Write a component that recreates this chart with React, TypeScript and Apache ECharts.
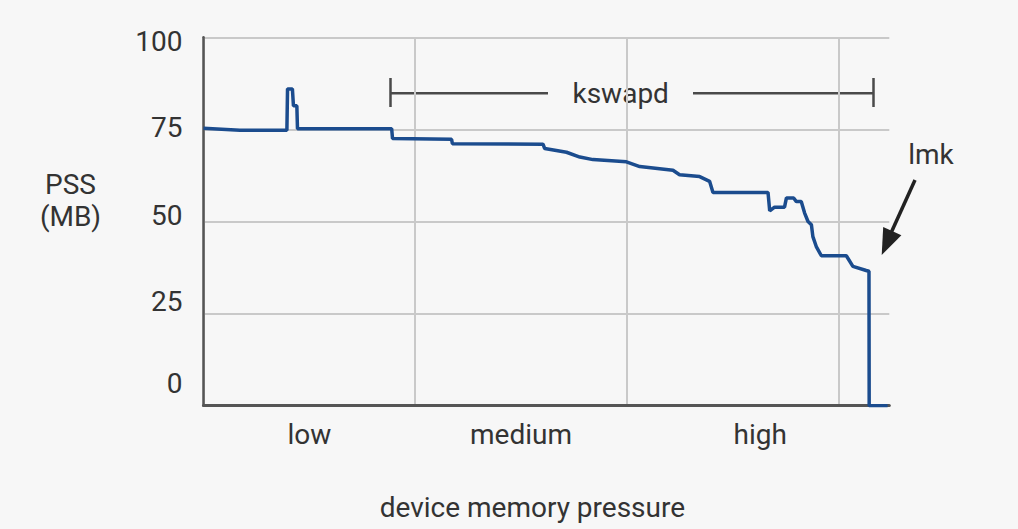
import React, { useEffect, useRef } from "react";
import * as echarts from "echarts";

// ---- data ----
const categories = ["low", "medium", "high"];
const categoryLabelAt = [0.5, 1.5, 2.63];
const yTicks = [0, 25, 50, 75, 100];

const pressure = [
  0.0, 0.172, 0.394, 0.397, 0.42, 0.425, 0.441, 0.444, 0.889, 0.893, 1.172, 1.176,
  1.604, 1.612, 1.715, 1.778, 1.84, 1.998, 2.061, 2.218, 2.249, 2.344, 2.391, 2.407,
  2.667, 2.675, 2.698, 2.745, 2.754, 2.788, 2.801, 2.824, 2.84, 2.856, 2.872, 2.879,
  2.895, 2.919, 3.037, 3.068, 3.131, 3.144, 3.145, 3.232,
];
const pssMB = [
  75.3, 74.8, 74.8, 86.0, 86.0, 81.4, 81.4, 75.2, 75.2, 72.5, 72.3, 71.1,
  71.0, 69.8, 68.8, 67.5, 66.8, 66.2, 64.9, 63.9, 62.7, 62.2, 60.9, 57.9,
  57.9, 52.9, 53.9, 53.9, 56.4, 56.4, 55.4, 55.4, 52.3, 50.0, 49.1, 45.9,
  43.2, 40.7, 40.7, 37.8, 36.7, 36.5, 0, 0,
];

// ---- layout constants ----
const yLabelShift: Record<number, number> = { 0: -22, 25: -12, 50: -6, 75: -2, 100: 4 };
const FONT = "Roboto, 'Open Sans', sans-serif";
const TEXT = "#333333";

export default function App() {
  const ref = useRef<HTMLDivElement>(null);
  useEffect(() => {
    if (!ref.current) return;
    const chart = echarts.init(ref.current, undefined, { renderer: "svg" });
    const rich: Record<string, any> = {};
    yTicks.forEach((v) => {
      const s = yLabelShift[v] || 0;
      rich["s" + v] = {
        fontSize: 28,
        fontFamily: FONT,
        color: TEXT,
        padding: s < 0 ? [0, 0, -2 * s, 0] : [2 * s, 0, 0, 0],
      };
    });
    const data = pressure.map((x, i) => [x, pssMB[i]]);
    chart.setOption({
      animation: false,
      backgroundColor: "#f7f7f7",
      grid: {
        left: 203.5,
        top: 37.3,
        right: 128.7,
        bottom: 123.3,
        containLabel: false,
        outerBoundsMode: "none",
      },
      xAxis: {
        type: "value",
        min: 0,
        max: 3.24,
        interval: 1,
        name: "device memory pressure",
        nameLocation: "middle",
        nameGap: 88,
        nameTextStyle: { fontSize: 28, fontFamily: FONT, color: TEXT, padding: [0, 28, 0, 0] },
        axisLine: { show: true, lineStyle: { color: "#555", width: 3 } },
        axisTick: { show: false },
        splitLine: { show: true, showMaxLine: false, lineStyle: { color: "#c9c9c9", width: 2 } },
        axisLabel: {
          customValues: categoryLabelAt,
          fontSize: 28,
          fontFamily: FONT,
          color: TEXT,
          margin: 15,
          formatter: (v: number) => {
            const i = categoryLabelAt.findIndex((p) => Math.abs(p - v) < 1e-6);
            return i >= 0 ? categories[i] : "";
          },
        },
      },
      yAxis: {
        type: "value",
        min: 0,
        max: 100,
        interval: 25,
        name: "{a|PSS}\n{a|(MB)}\n{g| }",
        nameLocation: "middle",
        nameRotate: 0,
        nameGap: 133,
        nameTextStyle: {
          align: "center",
          rich: {
            a: { fontSize: 28, fontFamily: FONT, color: TEXT, lineHeight: 32, align: "center" },
            g: { fontSize: 2, lineHeight: 42 },
          },
        },
        axisLine: { show: true, lineStyle: { color: "#555", width: 2.5 } },
        axisTick: { show: false },
        splitLine: { show: true, lineStyle: { color: "#c9c9c9", width: 2 } },
        axisLabel: {
          margin: 21,
          formatter: (v: number) => `{s${v}|${v}}`,
          rich,
        },
      },
      series: [
        {
          type: "line",
          data,
          symbol: "none",
          lineStyle: { color: "#1b4c8e", width: 3.5 },
          z: 3,
        },
      ],
      graphic: [
        { type: "line", shape: { x1: 390.5, y1: 78, x2: 390.5, y2: 107 }, style: { stroke: "#4a4a4a", lineWidth: 2.5 } },
        { type: "line", shape: { x1: 390.5, y1: 93.3, x2: 548, y2: 93.3 }, style: { stroke: "#4a4a4a", lineWidth: 2.5 } },
        { type: "line", shape: { x1: 693, y1: 93.3, x2: 873.5, y2: 93.3 }, style: { stroke: "#4a4a4a", lineWidth: 2.5 } },
        { type: "line", shape: { x1: 873.5, y1: 78, x2: 873.5, y2: 107 }, style: { stroke: "#4a4a4a", lineWidth: 2.5 } },
        {
          type: "text",
          x: 620.7,
          y: 93,
          style: { text: "kswapd", fontSize: 28, fontFamily: FONT, fill: TEXT, align: "center", verticalAlign: "middle" },
        },
        {
          type: "text",
          x: 931,
          y: 154,
          style: { text: "lmk", fontSize: 28, fontFamily: FONT, fill: TEXT, align: "center", verticalAlign: "middle" },
        },
        { type: "line", shape: { x1: 915, y1: 180, x2: 891, y2: 233 }, style: { stroke: "#222", lineWidth: 3.5 } },
        {
          type: "polygon",
          shape: { points: [[881.7, 255], [883.2, 227.1], [901.4, 235.3]] },
          style: { fill: "#222" },
        },
      ],
    });
    return () => chart.dispose();
  }, []);
  return (
    <div
      ref={ref}
      style={{ position: "absolute", left: 0, top: 0, width: 1018, height: 529, background: "#f7f7f7" }}
    />
  );
}
